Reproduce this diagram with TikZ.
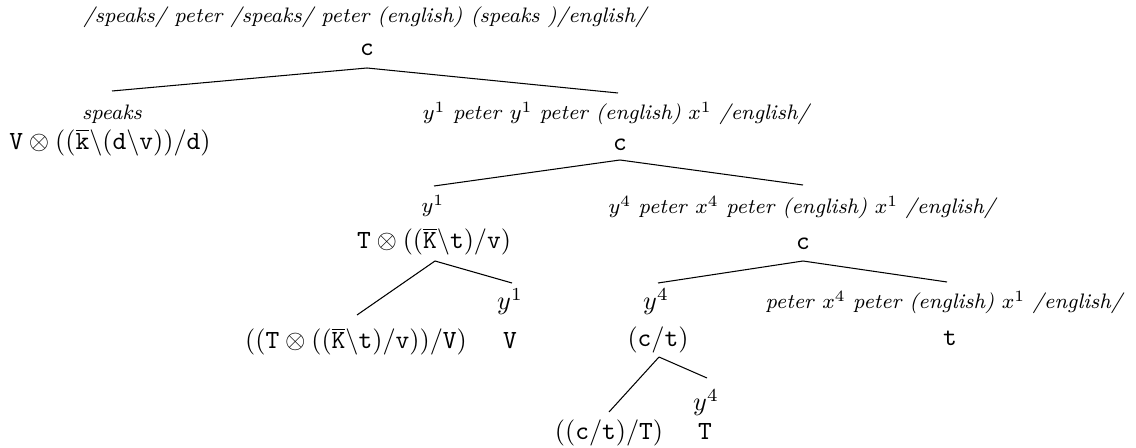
\documentclass[tikz,border=0pt]{standalone}
\usetikzlibrary{calc}
\tikzset{
  cat/.style={inner sep=0pt, anchor=base, font=\normalsize},
  lab/.style={inner sep=0pt, anchor=base, font=\footnotesize},
  biglab/.style={inner sep=0pt, anchor=base, font=\normalsize},
  edge/.style={line width=0.4pt}
}
\newcommand{\tta}[1]{\mathtt{#1}}
\begin{document}
\begin{tikzpicture}[x=0.3817pt, y=-0.3817pt]
\useasboundingbox (0,0) rectangle (1136,448);
% root
\node[lab] (L0) at (365,23) {\itshape /speaks/ peter /speaks/ peter (english) (speaks\ )/english/};
\node[cat] (C0) at (367,56) {$\tta{c}$};
% level 2
\node[lab] (L1) at (112,120) {\itshape speaks};
\node[cat] (C1) at (110,150) {$\tta{V}\otimes((\overline{\tta{k}}\backslash(\tta{d}\backslash\tta{v}))/\tta{d})$};
\node[lab] (L2) at (617,120) {$y^1$ \textit{peter} $y^1$ \textit{peter (english)} $x^1$ \textit{/english/}};
\node[cat] (C2) at (620,151) {$\tta{c}$};
% level 3
\node[lab] (L3) at (433,213) {$y^1$};
\node[cat] (C3) at (434,249) {$\tta{T}\otimes((\overline{\tta{K}}\backslash\tta{t})/\tta{v})$};
\node[lab] (L4) at (803,214) {$y^4$ \textit{peter} $x^4$ \textit{peter (english)} $x^1$ \textit{/english/}};
\node[cat] (C4) at (803,250) {$\tta{c}$};
% level 4
\node[cat] (C5) at (356,349) {$((\tta{T}\otimes((\overline{\tta{K}}\backslash\tta{t})/\tta{v}))/\tta{V})$};
\node[biglab] (L6) at (510,310) {$y^1$};
\node[cat] (C6) at (510,349) {$\tta{V}$};
\node[biglab] (L7) at (656,310) {$y^4$};
\node[cat] (C7) at (658,347) {$(\tta{c}/\tta{t})$};
\node[lab] (L8) at (945,309) {\textit{peter} $x^4$ \textit{peter (english)} $x^1$ \textit{/english/}};
\node[cat] (C8) at (950,346) {$\tta{t}$};
% level 5
\node[cat] (C9) at (609,440) {$((\tta{c}/\tta{t})/\tta{T})$};
\node[biglab] (L10) at (706,411) {$y^4$};
\node[cat] (C10) at (705,440) {$\tta{T}$};
% edges
\draw[edge] ($(C0.base)+(0,12)$) -- ($(L1.base)+(0,-29)$);
\draw[edge] ($(C0.base)+(0,12)$) -- ($(L2.base)+(1,-27)$);
\draw[edge] ($(C2.base)+(0,9)$) -- ($(L3.base)+(1,-27)$);
\draw[edge] ($(C2.base)+(0,9)$) -- ($(L4.base)+(0,-29)$);
\draw[edge] ($(C3.base)+(1,12)$) -- ($(C5.base)+(1,-34)$);
\draw[edge] ($(C3.base)+(1,12)$) -- ($(L6.base)+(2,-27)$);
\draw[edge] ($(C4.base)+(0,11)$) -- ($(L7.base)+(2,-27)$);
\draw[edge] ($(C4.base)+(0,11)$) -- ($(L8.base)+(2,-27)$);
\draw[edge] ($(C7.base)+(1,10)$) -- ($(C9.base)+(0,-28)$);
\draw[edge] ($(C7.base)+(1,10)$) -- ($(L10.base)+(1,-33)$);
\end{tikzpicture}
\end{document}
